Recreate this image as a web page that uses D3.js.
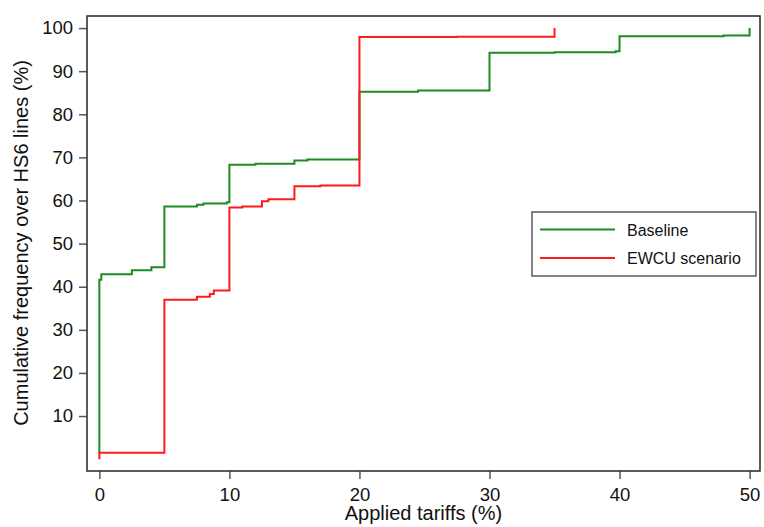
<!DOCTYPE html>
<html>
<head>
<meta charset="utf-8">
<script src="https://cdn.jsdelivr.net/npm/d3@7"></script>
<style>
  body { margin: 0; background: #fff; }
  svg { display: block; font-family: Arial, "Liberation Sans", sans-serif; }
</style>
</head>
<body>
<svg id="chart" width="764" height="527"></svg>
<script>
// step points: [applied tariff %, cumulative share %], value holds from x onward
const baseline = [
  [0, 1.5], [0, 41.6], [0.15, 42.9], [2.5, 43.8], [4, 44.5], [5, 58.6], [7.5, 59.0],
  [8, 59.3], [9.8, 59.6], [10, 68.3], [12, 68.5], [15, 69.3], [16, 69.5], [20, 85.2],
  [24.5, 85.5], [30, 94.3], [35, 94.4], [39.7, 94.6], [40, 98.1], [48, 98.3], [50, 100]
]
const ewcu = [
  [0, 0], [0, 1.5], [5, 37.0], [7.5, 37.7], [8.5, 38.3], [8.8, 39.1], [10, 58.4],
  [11, 58.6], [12.5, 59.8], [13, 60.3], [15, 63.3], [17, 63.5], [20, 97.9],
  [27.5, 98.0], [35, 100]
]
const seriesNames = ["Baseline", "EWCU scenario"]
const seriesColors = ["#1f8a1f", "#ff1a1a"]
const xTicks = [0, 10, 20, 30, 40, 50]
const yTicks = [10, 20, 30, 40, 50, 60, 70, 80, 90, 100]

const svg = d3.select('#chart')
const plotLeft = 87, plotRight = 760, plotTop = 16, plotBottom = 471

// domains chosen so ticks land where the reference draws them
const x = d3.scaleLinear().domain([-0.95, 50.8]).range([plotLeft, plotRight])
const y = d3.scaleLinear().domain([-2.75, 102.8]).range([plotBottom, plotTop])

// x axis
const xAxis = svg.append('g')
    .attr('transform', `translate(0,${plotBottom})`)
    .call(d3.axisBottom(x).tickValues(xTicks).tickSize(8).tickPadding(9).tickFormat(d3.format('d')))
xAxis.select('.domain').remove()
xAxis.selectAll('line').attr('stroke', '#555').attr('stroke-width', 1.5)
xAxis.selectAll('text').attr('font-size', 18.5).attr('fill', '#111')

// y axis
const yAxis = svg.append('g')
    .attr('transform', `translate(${plotLeft},0)`)
    .call(d3.axisLeft(y).tickValues(yTicks).tickSize(8).tickPadding(6).tickFormat(d3.format('d')))
yAxis.select('.domain').remove()
yAxis.selectAll('line').attr('stroke', '#555').attr('stroke-width', 1.5)
yAxis.selectAll('text').attr('font-size', 18.5).attr('fill', '#111')

// step lines
const line = d3.line()
    .x(d => x(d[0]))
    .y(d => y(d[1]))
    .curve(d3.curveStepAfter)

const series = [baseline, ewcu]
svg.selectAll('path.series')
    .data(series)
    .join('path')
    .attr('class', 'series')
    .attr('fill', 'none')
    .attr('stroke', (d, i) => seriesColors[i])
    .attr('stroke-width', 2)
    .attr('d', line)

// plot frame
svg.append('rect')
    .attr('x', plotLeft).attr('y', plotTop)
    .attr('width', plotRight - plotLeft).attr('height', plotBottom - plotTop)
    .attr('fill', 'none').attr('stroke', '#333').attr('stroke-width', 1.6)

// axis titles
svg.append('text')
    .attr('x', (plotLeft + plotRight) / 2).attr('y', 520)
    .attr('text-anchor', 'middle').attr('font-size', 20).attr('fill', '#111')
    .text('Applied tariffs (%)')
svg.append('text')
    .attr('transform', `translate(28,243) rotate(-90)`)
    .attr('text-anchor', 'middle').attr('font-size', 20).attr('fill', '#111')
    .text('Cumulative frequency over HS6 lines (%)')

// legend
const legend = svg.append('g').attr('transform', 'translate(532,212)')
legend.append('rect')
    .attr('width', 224).attr('height', 64)
    .attr('fill', '#fff').attr('stroke', '#333').attr('stroke-width', 1.2)
seriesNames.forEach((name, i) => {
    const ly = 17.5 + i * 28.5
    legend.append('line')
        .attr('x1', 8).attr('x2', 83).attr('y1', ly).attr('y2', ly)
        .attr('stroke', seriesColors[i]).attr('stroke-width', 2)
    legend.append('text')
        .attr('x', 95).attr('y', ly + 6)
        .attr('font-size', 16).attr('fill', '#111')
        .text(name)
})
</script>
</body>
</html>
